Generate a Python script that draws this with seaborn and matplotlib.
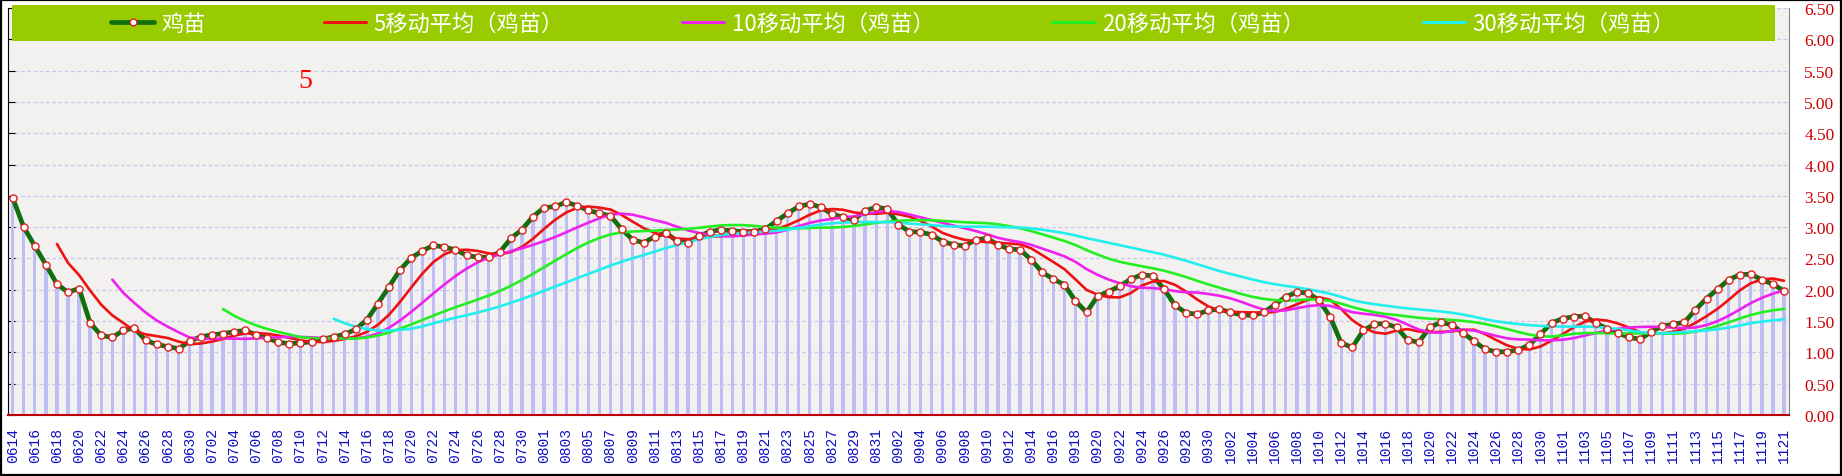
import pandas as pd
import seaborn as sns
import matplotlib.pyplot as plt
from matplotlib.lines import Line2D
from matplotlib.patches import Rectangle

# daily price of 鸡苗, 06-14 .. 11-21
price = [
    3.47, 3.00, 2.70, 2.40, 2.09, 1.96, 2.02, 1.47, 1.27, 1.24,
    1.35, 1.39, 1.19, 1.13, 1.09, 1.06, 1.18, 1.25, 1.28, 1.30,
    1.33, 1.35, 1.28, 1.23, 1.16, 1.14, 1.15, 1.17, 1.21, 1.25,
    1.29, 1.37, 1.52, 1.78, 2.05, 2.32, 2.51, 2.62, 2.71, 2.68,
    2.64, 2.55, 2.52, 2.52, 2.60, 2.82, 2.96, 3.17, 3.31, 3.33,
    3.40, 3.34, 3.27, 3.22, 3.18, 2.97, 2.80, 2.75, 2.85, 2.91,
    2.78, 2.75, 2.86, 2.93, 2.96, 2.94, 2.93, 2.93, 2.97, 3.10,
    3.22, 3.33, 3.37, 3.32, 3.21, 3.16, 3.12, 3.26, 3.32, 3.29,
    3.04, 2.93, 2.92, 2.88, 2.77, 2.72, 2.70, 2.80, 2.82, 2.72,
    2.65, 2.64, 2.48, 2.28, 2.17, 2.08, 1.82, 1.64, 1.90, 1.97,
    2.06, 2.17, 2.24, 2.22, 2.01, 1.75, 1.63, 1.61, 1.67, 1.69,
    1.64, 1.60, 1.59, 1.64, 1.76, 1.89, 1.96, 1.95, 1.83, 1.57,
    1.15, 1.08, 1.35, 1.45, 1.46, 1.40, 1.20, 1.16, 1.40, 1.48,
    1.44, 1.31, 1.18, 1.05, 1.01, 1.01, 1.04, 1.12, 1.29, 1.47,
    1.54, 1.57, 1.58, 1.47, 1.38, 1.31, 1.24, 1.21, 1.33, 1.42,
    1.45, 1.48, 1.68, 1.86, 2.01, 2.16, 2.24, 2.25, 2.16, 2.09,
    1.98,
]
# one category per calendar day
day_labels = pd.date_range("2023-06-14", "2023-11-21", freq="D").strftime("%m%d").tolist()
day_idx = list(range(len(price)))

ma_windows = [5, 10, 20, 30]
ma_colors = ["#ee1111", "#ee22ee", "#22ee22", "#22eeee"]
legend_names = ["鸡苗"] + [f"{w}移动平均（鸡苗）" for w in ma_windows]
y_ticks = [0.0, 0.5, 1.0, 1.5, 2.0, 2.5, 3.0, 3.5, 4.0, 4.5, 5.0, 5.5, 6.0, 6.5]

df = pd.DataFrame({"day": day_idx, "price": price})
# the moving-average series shown in the legend are trailing means of the price
for w in ma_windows:
    df[f"ma{w}"] = df["price"].rolling(w).mean()

sns.set_style("white")
plt.rcParams["font.family"] = ["Noto Sans CJK SC", "DejaVu Sans"]

W, H = 1842, 477
fig = plt.figure(figsize=(W / 100, H / 100), dpi=100)
ax = fig.add_axes([8 / W, (H - 416) / H, (1789 - 8) / W, (416 - 9) / H])
ax.set_facecolor("#f3f1ef")

# thin lavender columns under every day
sns.barplot(data=df, x="day", y="price", native_scale=True, width=0.3,
            color="#bebef5", saturation=1, linewidth=0, ax=ax, zorder=1)

sns.lineplot(data=df, x="day", y="price", color="#107010", lw=3.4, ax=ax, zorder=3)
for w, c in zip(ma_windows, ma_colors):
    sns.lineplot(data=df, x="day", y=f"ma{w}", color=c, lw=1.9, ax=ax, zorder=4)
sns.scatterplot(data=df, x="day", y="price", color="white", edgecolor="#e02020",
                linewidth=1, s=26, ax=ax, zorder=5)

ax.set_xlim(-0.42, len(price) - 1 + 0.45)
ax.set_ylim(0, 6.5)
ax.set_xlabel("")
ax.set_ylabel("")

# grid
for yv in y_ticks[1:]:
    ax.axhline(yv, color="#c8c8ee", lw=0.9, ls=(0, (3, 2)), zorder=0.5)

# x axis: labels every two days, red ticks at the left edge of each labelled day
ax.set_xticks(day_idx[::2])
ax.set_xticklabels(day_labels[::2], rotation=90, color="#1010c0",
                   family="Liberation Mono", fontsize=10.5)
ax.tick_params(axis="x", length=0, pad=9)
ax.set_xticks([d - 0.5 for d in day_idx[2::2]], minor=True)
ax.tick_params(axis="x", which="minor", direction="in", length=6, color="#c00000", width=1)

ax.set_yticks(y_ticks)
ax.set_yticklabels([f"{v:.2f}" for v in y_ticks], color="#cc0000",
                   family="Liberation Serif", fontsize=12.5)
ax.tick_params(axis="y", left=True, right=False, labelleft=False, labelright=True,
               direction="in", length=5, color="black", pad=11)

ax.spines["top"].set_visible(False)
ax.spines["left"].set_color("black")
ax.spines["bottom"].set_color("#c00000")
ax.spines["bottom"].set_linewidth(1.5)
ax.spines["right"].set_color("#808080")

# legend band
band = Rectangle((12 / W, (H - 42) / H), (1775 - 12) / W, 36 / H,
                 transform=fig.transFigure, facecolor="#99cc00", edgecolor="none", zorder=3)
fig.patches.append(band)

handles = [Line2D([], [], color="#107010", lw=3.4, marker="o", markersize=5,
                  markerfacecolor="white", markeredgecolor="#e02020", markeredgewidth=1)]
handles += [Line2D([], [], color=c, lw=2.2) for c in ma_colors]
leg = fig.legend(handles, legend_names, loc="center", bbox_to_anchor=(893.5 / W, (H - 24) / H),
                 ncol=5, frameon=False, fontsize=16, columnspacing=5.3, handlelength=1.9,
                 handletextpad=0.35, labelcolor="white", borderaxespad=0)
leg.set_zorder(6)

fig.text(305 / W, (H - 82) / H, "5", color="red", fontsize=20, family="Liberation Serif",
         ha="center", va="center")

# outer frame
fig.patches.append(Rectangle((0.0008, 0.002), 0.9984, 0.995, transform=fig.transFigure,
                             fill=False, edgecolor="black", lw=1.6, zorder=10))

fig.savefig("out.png", dpi=100)
plt.close()
